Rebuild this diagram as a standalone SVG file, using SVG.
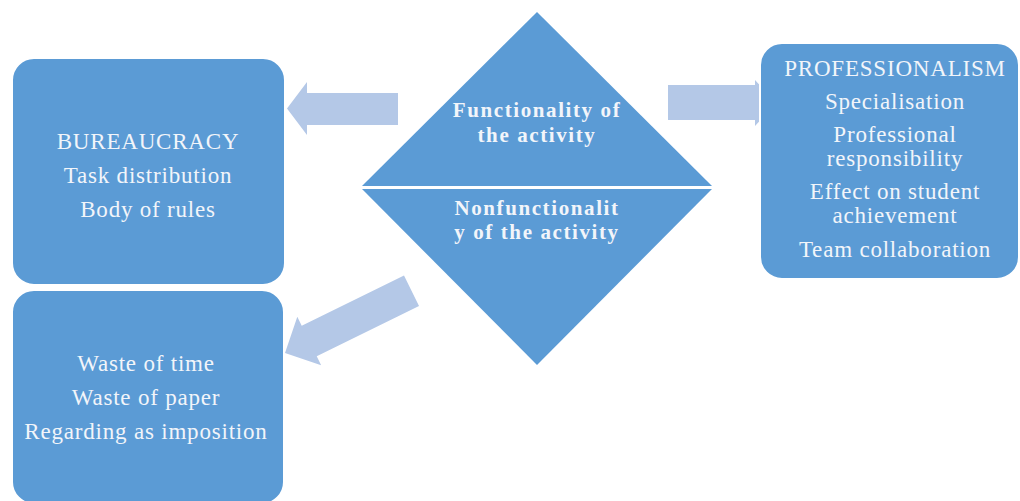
<svg xmlns="http://www.w3.org/2000/svg" width="1020" height="501" viewBox="0 0 1020 501">
<style>
.box{fill:#5b9bd5;stroke:#ffffff;stroke-width:2}
.arrow{fill:#b4c8e7}
.t{font-family:"Liberation Serif",serif;font-size:23px;fill:#f2f5fa;text-anchor:middle;letter-spacing:0.8px}
.tb{font-family:"Liberation Serif",serif;font-size:21px;font-weight:bold;fill:#f2f5fa;text-anchor:middle;letter-spacing:1.6px}
</style>
<rect width="1020" height="501" fill="#ffffff"/>
<g id="connectors">
<polygon class="arrow" points="287,108.5 307,82 307,93 398,93 398,125 307,125 307,135"/>
<polygon class="arrow" points="776,103 755,80 755,85 668,85 668,120 755,120 755,126"/>
<polygon class="arrow" transform="translate(285,353) rotate(-26.2)" points="0,0 27,-27 27,-17 141,-17 141,17 27,17 27,27"/>
</g>
<g id="bureaucracy">
<rect class="box" x="12" y="58" width="273" height="227" rx="22"/>
<text class="t" x="148" y="149">BUREAUCRACY</text>
<text class="t" x="148" y="183">Task distribution</text>
<text class="t" x="148" y="217">Body of rules</text>
</g>
<g id="dysfunction">
<rect class="box" x="12" y="290" width="272" height="214" rx="22"/>
<text class="t" x="146" y="371">Waste of time</text>
<text class="t" x="146" y="405">Waste of paper</text>
<text class="t" x="146" y="439">Regarding as imposition</text>
</g>
<g id="activity">
<polygon fill="#5b9bd5" points="537,12 712,186 362,186"/>
<polygon fill="#5b9bd5" points="362,189 712,189 537,365"/>
<line x1="362" y1="187.5" x2="712" y2="187.5" stroke="#ffffff" stroke-width="2"/>
<text class="tb" x="537" y="117">Functionality of</text>
<text class="tb" x="537" y="142">the activity</text>
<text class="tb" x="537" y="215">Nonfunctionalit</text>
<text class="tb" x="537" y="239">y of the activity</text>
</g>
<g id="professionalism">
<rect class="box" x="760" y="43" width="259" height="236" rx="22"/>
<text class="t" x="895" y="76">PROFESSIONALISM</text>
<text class="t" x="895" y="109">Specialisation</text>
<text class="t" x="895" y="142">Professional</text>
<text class="t" x="895" y="166">responsibility</text>
<text class="t" x="895" y="199">Effect on student</text>
<text class="t" x="895" y="223">achievement</text>
<text class="t" x="895" y="257">Team collaboration</text>
</g>
</svg>
